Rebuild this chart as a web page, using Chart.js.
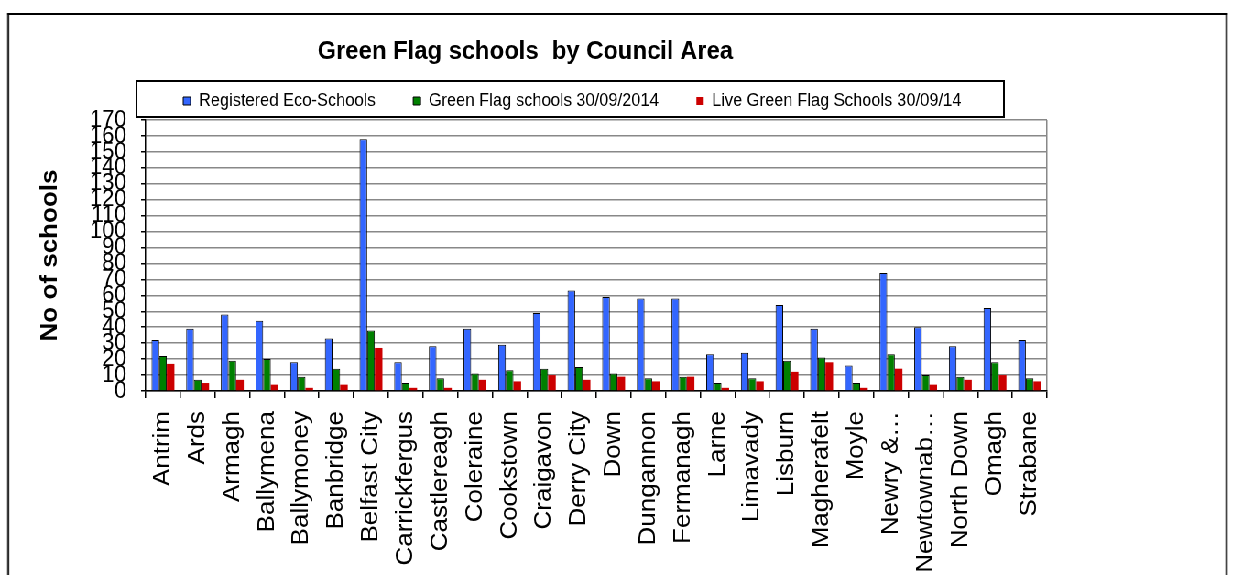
<!DOCTYPE html>
<html>
<head>
<meta charset="utf-8">
<title>Green Flag schools by Council Area</title>
<script src="https://cdn.jsdelivr.net/npm/chart.js@4.4.1/dist/chart.umd.min.js"></script>
<style>
  html, body { margin: 0; padding: 0; background: #fff; overflow: hidden; }
  /* the original picture is a wider chart squeezed to 1233px across */
  #stage { position: absolute; left: 0; top: 0; width: 1346px; height: 575px;
           transform: scaleX(0.916); transform-origin: 0 0; }
  #frame { position: absolute; left: 8px; top: 13px; width: 1328px; height: 700px;
           border: 2px solid #000; border-bottom: none; }
  #wrap { position: absolute; left: 0; top: 0; width: 1147px; height: 575px; }
</style>
</head>
<body>
<div id="stage">
  <div id="frame"></div>
  <div id="wrap"><canvas id="chart"></canvas></div>
</div>
<script>
// council areas (two names are cut short in the original)
const councils = ['Antrim', 'Ards', 'Armagh', 'Ballymena', 'Ballymoney', 'Banbridge', 'Belfast City',
  'Carrickfergus', 'Castlereagh', 'Coleraine', 'Cookstown', 'Craigavon', 'Derry City', 'Down',
  'Dungannon', 'Fermanagh', 'Larne', 'Limavady', 'Lisburn', 'Magherafelt', 'Moyle', 'Newry &\u2026',
  'Newtownab\u2026', 'North Down', 'Omagh', 'Strabane'];

const registered    = [32, 39, 48, 44, 18, 33, 158, 18, 28, 39, 29, 49, 63, 59, 58, 58, 23, 24, 54, 39, 16, 74, 40, 28, 52, 32];
const greenFlag     = [22, 7, 19, 20, 9, 14, 38, 5, 8, 11, 13, 14, 15, 11, 8, 9, 5, 8, 19, 21, 5, 23, 10, 9, 18, 8];
const liveGreenFlag = [17, 5, 7, 4, 2, 4, 27, 2, 2, 7, 6, 10, 7, 9, 6, 9, 2, 6, 12, 18, 2, 14, 4, 7, 10, 6];

const seriesNames = ['Registered Eco-Schools', 'Green Flag schools 30/09/2014', 'Live Green Flag Schools 30/09/14'];

const FONT = "'Liberation Sans', Arial, sans-serif";

// Excel-style box drawn round the legend
const legendFrame = {
  id: 'legendFrame',
  afterDraw(chart) {
    const ctx = chart.ctx;
    ctx.save();
    ctx.strokeStyle = '#000';
    ctx.lineWidth = 2;
    ctx.strokeRect(149, 81, 947, 36);
    ctx.restore();
  }
};

new Chart(document.getElementById('chart'), {
  type: 'bar',
  data: {
    labels: councils,
    datasets: [
      { label: seriesNames[0], data: registered, backgroundColor: '#3366ff', borderColor: '#000', borderWidth: 1 },
      { label: seriesNames[1], data: greenFlag, backgroundColor: '#008000', borderColor: '#000', borderWidth: 1 },
      { label: seriesNames[2], data: liveGreenFlag, backgroundColor: '#cc0000', borderWidth: 0 }
    ]
  },
  options: {
    responsive: true,
    maintainAspectRatio: false,
    animation: false,
    devicePixelRatio: 1,
    datasets: { bar: { categoryPercentage: 0.66, barPercentage: 1 } },
    layout: { padding: { left: 4, right: 4, top: 0, bottom: 0 } },
    plugins: {
      title: {
        display: true,
        text: 'Green Flag schools  by Council Area',
        color: '#000',
        font: { family: FONT, size: 26, weight: 'bold' },
        padding: { top: 36.4, bottom: -16.6 }
      },
      legend: {
        position: 'top',
        align: 'start',
        fullSize: false,
        labels: {
          boxWidth: 8,
          boxHeight: 8,
          padding: 41,
          color: '#000',
          font: { family: FONT, size: 18 }
        }
      },
      tooltip: { enabled: false }
    },
    scales: {
      x: {
        grid: {
          offset: true,
          // only the right edge of the plot gets a line, the rest are tick marks
          color: c => c.type === 'tick' ? 'rgba(0,0,0,0)' : '#888',
          lineWidth: 1.5,
          tickColor: '#000',
          tickLength: 7,
          tickWidth: 1.5
        },
        border: { color: '#000', width: 1.5 },
        ticks: {
          autoSkip: false,
          maxRotation: 90,
          minRotation: 90,
          padding: 13,
          color: '#000',
          font: { family: FONT, size: 26 }
        },
        afterFit(scale) {
          scale.height = 184;
          scale.paddingLeft = 0;
          scale.paddingRight = 0;
        }
      },
      y: {
        min: 0,
        max: 170,
        grid: { color: '#888', lineWidth: 1.5, tickColor: '#000', tickLength: 5, tickWidth: 1.5 },
        border: { color: '#000', width: 1.5 },
        ticks: {
          stepSize: 10,
          autoSkip: false,
          maxTicksLimit: 30,
          padding: 16,
          color: '#000',
          font: { family: FONT, size: 24 }
        },
        title: {
          display: true,
          text: 'No of schools',
          color: '#000',
          font: { family: FONT, size: 26, weight: 'bold' },
          padding: { top: 35.4, bottom: 0 }
        },
        afterFit(scale) {
          scale.width = 155;
        }
      }
    }
  },
  plugins: [legendFrame]
});
</script>
</body>
</html>
